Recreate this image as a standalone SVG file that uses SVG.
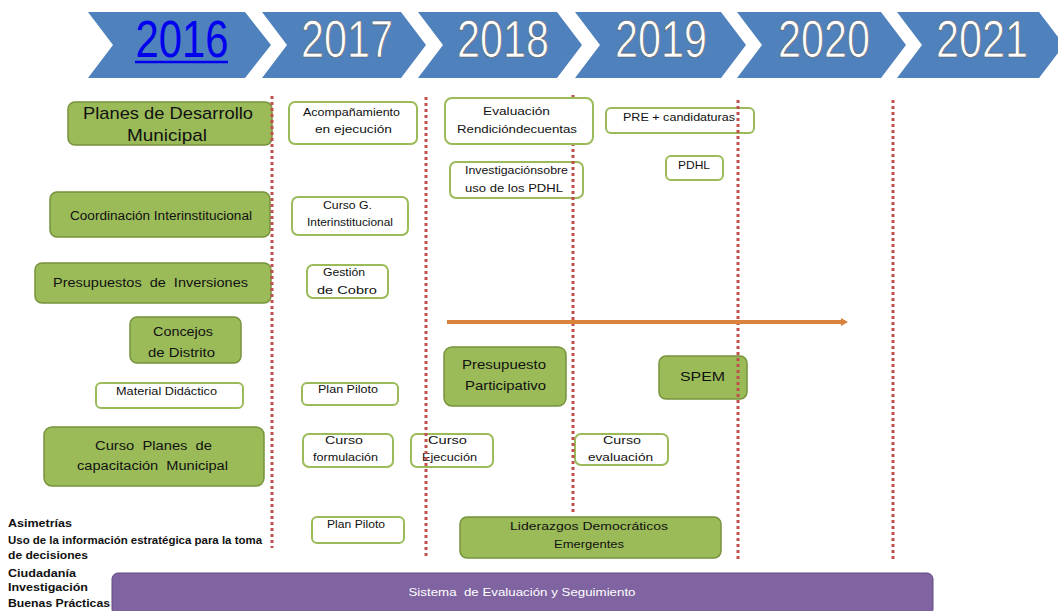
<svg xmlns="http://www.w3.org/2000/svg" width="1058" height="611" viewBox="0 0 1058 611">
<style>
.chev{fill:#4f81bd}
.yr{font-family:"Liberation Sans Narrow","Liberation Sans",sans-serif;font-size:52px;fill:#ffffff;stroke:#5a5a5a;stroke-width:0.7;text-anchor:middle}
.yr1{fill:#0000ee;stroke:none}
.g{fill:#9bbb59;stroke:#77933c;stroke-width:1.5}
.w{fill:#ffffff;stroke:#9bbb59;stroke-width:2}
text{font-family:"Liberation Sans",Arial,sans-serif}
.t{fill:#111111;text-anchor:middle}
.s{font-size:11px}
.m{font-size:12px}
.l{font-size:17px}
.lft{font-size:10.5px;fill:#111;font-weight:bold}
.dash{stroke:#c0504d;stroke-width:3;stroke-dasharray:3 3;fill:none}
</style>
<defs>
<marker id="ah" markerWidth="8" markerHeight="10" refX="2" refY="5" orient="auto" markerUnits="userSpaceOnUse">
<path d="M0,1 L7,5 L0,9 Z" fill="#d9823b"/>
</marker>
</defs>
<rect width="1058" height="611" fill="#ffffff"/>

<g id="timeline">
<g id="y2016"><polygon class="chev" points="88,12 245,12 271,45 245,78 88,78 113,45"/><text class="yr yr1" x="182" y="57" textLength="93" lengthAdjust="spacingAndGlyphs">2016</text><line x1="135" y1="62" x2="228" y2="62" stroke="#0000ee" stroke-width="2.5"/></g>
<g id="y2017"><polygon class="chev" points="262,12 401,12 426,45 401,78 262,78 287,45"/><text class="yr" x="347" y="57" textLength="92" lengthAdjust="spacingAndGlyphs">2017</text></g>
<g id="y2018"><polygon class="chev" points="418,12 557,12 582,45 557,78 418,78 443,45"/><text class="yr" x="503" y="57" textLength="92" lengthAdjust="spacingAndGlyphs">2018</text></g>
<g id="y2019"><polygon class="chev" points="575,12 721,12 746,45 721,78 575,78 600,45"/><text class="yr" x="661" y="57" textLength="92" lengthAdjust="spacingAndGlyphs">2019</text></g>
<g id="y2020"><polygon class="chev" points="737,12 881,12 906,45 881,78 737,78 762,45"/><text class="yr" x="824" y="57" textLength="92" lengthAdjust="spacingAndGlyphs">2020</text></g>
<g id="y2021"><polygon class="chev" points="897,12 1039,12 1064,45 1039,78 897,78 922,45"/><text class="yr" x="982" y="57" textLength="92" lengthAdjust="spacingAndGlyphs">2021</text></g>
</g>

<g id="n-planes"><rect class="g" x="68" y="102" width="204" height="43" rx="7"/><text class="t l" x="168" y="119" textLength="170" lengthAdjust="spacingAndGlyphs">Planes de Desarrollo</text><text class="t l" x="167" y="141" textLength="80" lengthAdjust="spacingAndGlyphs">Municipal</text></g>
<g id="n-acomp"><rect class="w" x="289" y="102" width="128" height="42" rx="6"/><text class="t s" x="351.5" y="116" textLength="97" lengthAdjust="spacingAndGlyphs">Acompañamiento</text><text class="t s" x="353.5" y="133" textLength="77" lengthAdjust="spacingAndGlyphs">en ejecución</text></g>
<g id="n-coord"><rect class="g" x="50" y="192" width="220" height="45" rx="7"/><text class="t m" x="161" y="220" textLength="182" lengthAdjust="spacingAndGlyphs">Coordinación Interinstitucional</text></g>
<g id="n-cursog"><rect class="w" x="292" y="197" width="116" height="38" rx="6"/><text class="t s" x="347.5" y="209" textLength="49" lengthAdjust="spacingAndGlyphs">Curso G.</text><text class="t s" x="350" y="226" textLength="86" lengthAdjust="spacingAndGlyphs">Interinstitucional</text></g>
<g id="n-presinv"><rect class="g" x="35" y="263" width="236" height="40" rx="7"/><text class="t m" x="150.5" y="287" textLength="195" lengthAdjust="spacingAndGlyphs" xml:space="preserve">Presupuestos  de  Inversiones</text></g>
<g id="n-gestion"><rect class="w" x="307" y="265" width="81" height="33" rx="6"/><text class="t s" x="344" y="276" textLength="42" lengthAdjust="spacingAndGlyphs">Gestión</text><text class="t s" x="347" y="294" textLength="60" lengthAdjust="spacingAndGlyphs">de Cobro</text></g>
<g id="n-pre"><rect class="w" x="606" y="108" width="148" height="25" rx="5"/><text class="t s" x="679" y="121" textLength="112" lengthAdjust="spacingAndGlyphs">PRE + candidaturas</text></g>
<g id="n-pdhl"><rect class="w" x="666" y="156" width="57" height="24" rx="5"/><text class="t s" x="694" y="169" textLength="32" lengthAdjust="spacingAndGlyphs">PDHL</text></g>
<g id="n-invest"><rect class="w" x="450" y="162" width="133" height="36" rx="6"/><text class="t s" x="516.5" y="174" textLength="103" lengthAdjust="spacingAndGlyphs">Investigaciónsobre</text><text class="t s" x="514" y="192" textLength="98" lengthAdjust="spacingAndGlyphs">uso de los PDHL</text></g>
<g id="n-concejos"><rect class="g" x="130" y="317" width="111" height="46" rx="7"/><text class="t m" x="183" y="336" textLength="60" lengthAdjust="spacingAndGlyphs">Concejos</text><text class="t m" x="181.5" y="357" textLength="67" lengthAdjust="spacingAndGlyphs">de Distrito</text></g>
<g id="n-material"><rect class="w" x="96" y="383" width="147" height="25" rx="5"/><text class="t s" x="166.5" y="395" textLength="101" lengthAdjust="spacingAndGlyphs">Material Didáctico</text></g>
<g id="n-piloto1"><rect class="w" x="302" y="383" width="96" height="22" rx="5"/><text class="t s" x="348" y="393" textLength="60" lengthAdjust="spacingAndGlyphs">Plan Piloto</text></g>
<g id="n-cursoplanes"><rect class="g" x="44" y="427" width="220" height="59" rx="8"/><text class="t m" x="153.5" y="450" textLength="117" lengthAdjust="spacingAndGlyphs" xml:space="preserve">Curso  Planes  de</text><text class="t m" x="152.5" y="470" textLength="151" lengthAdjust="spacingAndGlyphs" xml:space="preserve">capacitación  Municipal</text></g>
<g id="n-cformul"><rect class="w" x="303" y="434" width="90" height="33" rx="6"/><text class="t s" x="344" y="444" textLength="38" lengthAdjust="spacingAndGlyphs">Curso</text><text class="t s" x="345.5" y="461" textLength="65" lengthAdjust="spacingAndGlyphs">formulación</text></g>
<g id="n-cejec"><rect class="w" x="411" y="434" width="82" height="33" rx="6"/><text class="t s" x="447.5" y="444" textLength="39" lengthAdjust="spacingAndGlyphs">Curso</text><text class="t s" x="449.5" y="461" textLength="55" lengthAdjust="spacingAndGlyphs">Ejecución</text></g>
<g id="n-presupart"><rect class="g" x="444" y="347" width="122" height="59" rx="8"/><text class="t m" x="504" y="369" textLength="84" lengthAdjust="spacingAndGlyphs">Presupuesto</text><text class="t m" x="505.5" y="390" textLength="81" lengthAdjust="spacingAndGlyphs">Participativo</text></g>
<g id="n-spem"><rect class="g" x="659" y="356" width="88" height="43" rx="7"/><text class="t m" x="702.5" y="381" textLength="45" lengthAdjust="spacingAndGlyphs">SPEM</text></g>
<g id="n-ceval"><rect class="w" x="575" y="434" width="93" height="31" rx="6"/><text class="t s" x="622" y="444" textLength="38" lengthAdjust="spacingAndGlyphs">Curso</text><text class="t s" x="620.5" y="461" textLength="65" lengthAdjust="spacingAndGlyphs">evaluación</text></g>
<g id="n-piloto2"><rect class="w" x="312" y="517" width="92" height="26" rx="5"/><text class="t s" x="356" y="528" textLength="58" lengthAdjust="spacingAndGlyphs">Plan Piloto</text></g>
<g id="n-lider"><rect class="g" x="460" y="517" width="261" height="41" rx="7"/><text class="t s" x="589" y="530" textLength="158" lengthAdjust="spacingAndGlyphs">Liderazgos Democráticos</text><text class="t s" x="589" y="548" textLength="70" lengthAdjust="spacingAndGlyphs">Emergentes</text></g>
<g id="n-sistema"><rect x="112" y="573" width="821" height="42" rx="6" fill="#8064a2" stroke="#5f4a7d" stroke-width="1"/><text x="522" y="596" font-size="10.5" fill="#ffffff" text-anchor="middle" textLength="227" lengthAdjust="spacingAndGlyphs" xml:space="preserve">Sistema  de Evaluación y Seguimiento</text></g>

<g id="connectors">
<line class="dash" x1="272" y1="96" x2="272" y2="548"/>
<line class="dash" x1="426" y1="97" x2="426" y2="558"/>
<line class="dash" x1="573" y1="95" x2="573" y2="514"/>
<line class="dash" x1="738" y1="100" x2="738" y2="560"/>
<line class="dash" x1="893" y1="100" x2="893" y2="560"/>
<line x1="447" y1="322" x2="843" y2="322" stroke="#d9823b" stroke-width="4" marker-end="url(#ah)"/>
</g>

<g id="n-eval"><rect class="w" x="445" y="98" width="148" height="46" rx="7"/><text class="t s" x="516.5" y="115" textLength="67" lengthAdjust="spacingAndGlyphs">Evaluación</text><text class="t s" x="517" y="133" textLength="120" lengthAdjust="spacingAndGlyphs">Rendicióndecuentas</text></g>

<g id="left-notes">
<text class="lft" x="8" y="527" textLength="64" lengthAdjust="spacingAndGlyphs">Asimetrías</text>
<text class="lft" x="8" y="544" textLength="254" lengthAdjust="spacingAndGlyphs">Uso de la información estratégica para la toma</text>
<text class="lft" x="8" y="559" textLength="80" lengthAdjust="spacingAndGlyphs">de decisiones</text>
<text class="lft" x="8" y="577" textLength="68" lengthAdjust="spacingAndGlyphs">Ciudadanía</text>
<text class="lft" x="8" y="591" textLength="80" lengthAdjust="spacingAndGlyphs">Investigación</text>
<text class="lft" x="8" y="607" textLength="102" lengthAdjust="spacingAndGlyphs">Buenas Prácticas</text>
</g>
</svg>
